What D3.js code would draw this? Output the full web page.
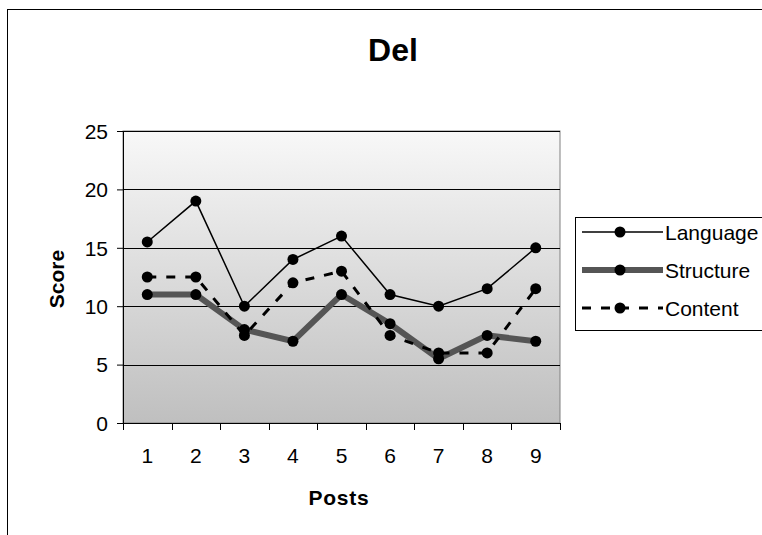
<!DOCTYPE html>
<html>
<head>
<meta charset="utf-8">
<script src="https://cdn.jsdelivr.net/npm/d3@7"></script>
<style>
  body { margin: 0; background: #fff; }
  text { font-family: "Liberation Sans", Arial, sans-serif; }
</style>
</head>
<body>
<script>
var posts = ["1", "2", "3", "4", "5", "6", "7", "8", "9"];
var languageValues = [15.5, 19, 10, 14, 16, 11, 10, 11.5, 15];
var structureValues = [11, 11, 8, 7, 11, 8.5, 5.5, 7.5, 7];
var contentValues = [12.5, 12.5, 7.5, 12, 13, 7.5, 6, 6, 11.5];
var yTicks = [0, 5, 10, 15, 20, 25];

var chartDimension = { width: 762, height: 535 };
var plotArea = { left: 123, top: 131, right: 560, bottom: 423 };
var fontSize = 21;

var svg = d3.select("body").append("svg")
    .attr("width", chartDimension.width)
    .attr("height", chartDimension.height);

// outer chart frame, clipped at right and bottom like the picture
svg.append("rect")
    .attr("x", 7.5).attr("y", 9.5)
    .attr("width", 800).attr("height", 600)
    .attr("fill", "#fff")
    .attr("stroke", "#000")
    .attr("stroke-width", 1);

var defs = svg.append("defs");
var grad = defs.append("linearGradient")
    .attr("id", "plotBg")
    .attr("x1", 0).attr("y1", 0).attr("x2", 0).attr("y2", 1);
grad.append("stop").attr("offset", "0%").attr("stop-color", "#f8f8f8");
grad.append("stop").attr("offset", "100%").attr("stop-color", "#bfbfbf");

var xScale = d3.scaleBand()
    .domain(posts)
    .range([plotArea.left, plotArea.right]);

var yScale = d3.scaleLinear()
    .domain([0, 25])
    .range([plotArea.bottom, plotArea.top]);

svg.append("rect")
    .attr("x", plotArea.left).attr("y", plotArea.top)
    .attr("width", plotArea.right - plotArea.left)
    .attr("height", plotArea.bottom - plotArea.top)
    .attr("fill", "url(#plotBg)")
    .attr("stroke", "#808080")
    .attr("stroke-width", 1);

// gridlines
svg.append("g").selectAll("line")
    .data(yTicks.filter(function(d) { return d > 0; }))
    .enter().append("line")
    .attr("x1", plotArea.left).attr("x2", plotArea.right)
    .attr("y1", function(d) { return Math.round(yScale(d)) + 0.5; })
    .attr("y2", function(d) { return Math.round(yScale(d)) + 0.5; })
    .attr("stroke", "#000")
    .attr("stroke-width", 1);

// y axis
var yAxis = svg.append("g")
    .attr("transform", "translate(" + plotArea.left + ",0)")
    .call(d3.axisLeft(yScale).tickValues(yTicks).tickSize(6).tickPadding(9));
yAxis.selectAll("text").attr("font-size", fontSize).attr("fill", "#000")
    .attr("dy", "0.35em")
    .style("font-family", "'Liberation Sans', Arial, sans-serif");
yAxis.selectAll("line, path").attr("stroke", "#000");

// x axis: ticks sit between categories
var xAxis = svg.append("g")
    .attr("transform", "translate(0," + plotArea.bottom + ")");
xAxis.append("line")
    .attr("x1", plotArea.left).attr("x2", plotArea.right)
    .attr("y1", 0.5).attr("y2", 0.5)
    .attr("stroke", "#000");
xAxis.selectAll("line.tick")
    .data(posts.concat(["end"]))
    .enter().append("line")
    .attr("class", "tick")
    .attr("x1", function(d, i) { return Math.round(plotArea.left + i * xScale.bandwidth()) + 0.5; })
    .attr("x2", function(d, i) { return Math.round(plotArea.left + i * xScale.bandwidth()) + 0.5; })
    .attr("y1", 0).attr("y2", 7)
    .attr("stroke", "#000");
xAxis.selectAll("text")
    .data(posts)
    .enter().append("text")
    .attr("x", function(d) { return xScale(d) + xScale.bandwidth() / 2; })
    .attr("y", 40)
    .attr("text-anchor", "middle")
    .attr("font-size", fontSize)
    .text(function(d) { return d; });

// titles
svg.append("text")
    .attr("x", 393).attr("y", 61)
    .attr("text-anchor", "middle")
    .attr("font-size", 32).attr("font-weight", "bold")
    .text("Del");

svg.append("text")
    .attr("x", 339).attr("y", 505)
    .attr("text-anchor", "middle")
    .attr("font-size", fontSize).attr("font-weight", "bold")
    .attr("letter-spacing", 0.8)
    .text("Posts");

svg.append("text")
    .attr("transform", "translate(64,279) rotate(-90)")
    .attr("text-anchor", "middle")
    .attr("font-size", fontSize).attr("font-weight", "bold")
    .text("Score");

var seriesList = [
    { name: "Language", values: languageValues, stroke: "#000", width: 1.5, dash: null },
    { name: "Structure", values: structureValues, stroke: "#555", width: 6, dash: null },
    { name: "Content", values: contentValues, stroke: "#000", width: 3, dash: "9,10" }
];

var line = d3.line()
    .x(function(d, i) { return xScale(posts[i]) + xScale.bandwidth() / 2; })
    .y(function(d) { return yScale(d); });

seriesList.forEach(function(s) {
    svg.append("path")
        .datum(s.values)
        .attr("d", line)
        .attr("fill", "none")
        .attr("stroke", s.stroke)
        .attr("stroke-width", s.width)
        .attr("stroke-dasharray", s.dash);
});

seriesList.forEach(function(s) {
    svg.append("g").selectAll("circle")
        .data(s.values)
        .enter().append("circle")
        .attr("cx", function(d, i) { return xScale(posts[i]) + xScale.bandwidth() / 2; })
        .attr("cy", function(d) { return yScale(d); })
        .attr("r", 5.5)
        .attr("fill", "#000");
});

// legend
var legend = svg.append("g");
legend.append("rect")
    .attr("x", 575.5).attr("y", 217.5)
    .attr("width", 250).attr("height", 113)
    .attr("fill", "#fff")
    .attr("stroke", "#000");

seriesList.forEach(function(s, i) {
    var y = 232 + i * 38;
    legend.append("line")
        .attr("x1", 582).attr("x2", 663)
        .attr("y1", y).attr("y2", y)
        .attr("stroke", s.stroke)
        .attr("stroke-width", s.width)
        .attr("stroke-dasharray", s.dash);
    legend.append("circle")
        .attr("cx", 620).attr("cy", y).attr("r", 5.5).attr("fill", "#000");
    legend.append("text")
        .attr("x", 665).attr("y", y + 8)
        .attr("font-size", fontSize)
        .text(s.name);
});
</script>
</body>
</html>
